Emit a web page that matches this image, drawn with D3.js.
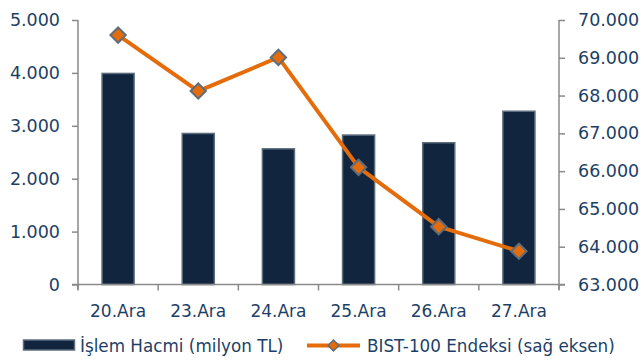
<!DOCTYPE html>
<html>
<head>
<meta charset="utf-8">
<script src="https://cdn.jsdelivr.net/npm/d3@7"></script>
<style>
  html, body { margin: 0; padding: 0; background: #fff; }
  svg text { font-family: "DejaVu Sans", Verdana, sans-serif; fill: #1d3f66; }
</style>
</head>
<body>
<svg id="chart" width="644" height="360"></svg>
<script>
// Daily trading volume and BIST-100 closing levels
const days = ["20.Ara", "23.Ara", "24.Ara", "25.Ara", "26.Ara", "27.Ara"];
const volume = [3990, 2855, 2565, 2825, 2680, 3275];          // milyon TL
const bist = [69600, 68120, 69010, 66100, 64530, 63880];      // index level
const leftTicks = [0, 1000, 2000, 3000, 4000, 5000];
const rightTicks = [63000, 64000, 65000, 66000, 67000, 68000, 69000, 70000];
const volumeLabel = "İşlem Hacmi (milyon TL)";
const bistLabel = "BIST-100 Endeksi (sağ eksen)";

const fmt = v => d3.format(",")(v).replace(/,/g, ".");

const svg = d3.select("#chart");
const plotLeft = 78, plotRight = 559, plotTop = 20, plotBottom = 284.5;

const x = d3.scaleBand().domain(days).range([plotLeft, plotRight])
  .paddingInner(0.6).paddingOuter(0.3);
const yL = d3.scaleLinear().domain([0, 5000]).range([plotBottom, plotTop]);
const yR = d3.scaleLinear().domain([63000, 70000]).range([plotBottom, plotTop]);

const axisColor = "#8a8a8a";
const textColor = "#1d3f66";
const tickFont = 17.5;
const catFont = 17;
const legendFont = 16.8;

// Bars
svg.append("g").selectAll("rect").data(volume).join("rect")
  .attr("x", (d, i) => x(days[i]))
  .attr("y", d => yL(d))
  .attr("width", x.bandwidth())
  .attr("height", d => yL(0) - yL(d))
  .attr("fill", "#12253f")
  .attr("stroke", "#5c6d7e")
  .attr("stroke-width", 1.5);

// Left axis
const gL = svg.append("g").attr("transform", `translate(${plotLeft},0)`)
  .call(d3.axisLeft(yL).tickValues(leftTicks).tickFormat(fmt).tickSize(6).tickPadding(12));
gL.select(".domain").remove();
gL.append("line").attr("y1", plotTop).attr("y2", plotBottom + 5).attr("stroke", axisColor).attr("stroke-width", 1.5);
gL.selectAll(".tick line").attr("stroke", axisColor).attr("stroke-width", 1.5);
gL.selectAll(".tick text").attr("font-size", tickFont).style("fill", textColor);

// Right axis
const gR = svg.append("g").attr("transform", `translate(${plotRight},0)`)
  .call(d3.axisRight(yR).tickValues(rightTicks).tickFormat(fmt).tickSize(6).tickPadding(13));
gR.select(".domain").remove();
gR.append("line").attr("y1", plotTop).attr("y2", plotBottom + 5).attr("stroke", axisColor).attr("stroke-width", 1.5);
gR.selectAll(".tick line").attr("stroke", axisColor).attr("stroke-width", 1.5);
gR.selectAll(".tick text").attr("font-size", tickFont).style("fill", textColor);

// Bottom axis: baseline, boundary ticks and category labels
const gB = svg.append("g");
gB.append("line").attr("x1", plotLeft - 6).attr("x2", plotRight + 6)
  .attr("y1", plotBottom).attr("y2", plotBottom).attr("stroke", axisColor).attr("stroke-width", 1.5);
const bounds = d3.range(days.length + 1).map(i => plotLeft + i * x.step());
gB.selectAll("line.b").data(bounds).join("line").attr("class", "b")
  .attr("x1", d => d).attr("x2", d => d)
  .attr("y1", plotBottom).attr("y2", plotBottom + 6)
  .attr("stroke", axisColor).attr("stroke-width", 1.5);
gB.selectAll("text").data(days).join("text")
  .attr("x", d => x(d) + x.bandwidth() / 2)
  .attr("y", 317)
  .attr("text-anchor", "middle")
  .attr("font-size", catFont)
  .text(d => d);

// Line series on the right axis
const cx = i => x(days[i]) + x.bandwidth() / 2;
const line = d3.line().x((d, i) => cx(i)).y(d => yR(d));
svg.append("path").datum(bist)
  .attr("d", line)
  .attr("fill", "none")
  .attr("stroke", "#e46c0a")
  .attr("stroke-width", 4)
  .attr("stroke-linejoin", "round");

const diamond = d3.symbol().type(d3.symbolDiamond2).size(150);
svg.append("g").selectAll("path").data(bist).join("path")
  .attr("d", diamond)
  .attr("transform", (d, i) => `translate(${cx(i)},${yR(d)})`)
  .attr("fill", "#e46c0a")
  .attr("stroke", "#5c6d7e")
  .attr("stroke-width", 2);

// Legend
const lg = svg.append("g");
lg.append("rect").attr("x", 23.5).attr("y", 340).attr("width", 51).attr("height", 10)
  .attr("fill", "#12253f").attr("stroke", "#5c6d7e").attr("stroke-width", 1.5);
lg.append("text").attr("x", 80).attr("y", 351.5).attr("font-size", legendFont).text(volumeLabel);
lg.append("line").attr("x1", 307).attr("x2", 360).attr("y1", 345.5).attr("y2", 345.5)
  .attr("stroke", "#e46c0a").attr("stroke-width", 4);
lg.append("path").attr("d", d3.symbol().type(d3.symbolDiamond2).size(75))
  .attr("transform", "translate(333.5,345.5)")
  .attr("fill", "#e46c0a").attr("stroke", "#5c6d7e").attr("stroke-width", 1.5);
lg.append("text").attr("x", 367).attr("y", 351.5).attr("font-size", legendFont).text(bistLabel);
</script>
</body>
</html>
